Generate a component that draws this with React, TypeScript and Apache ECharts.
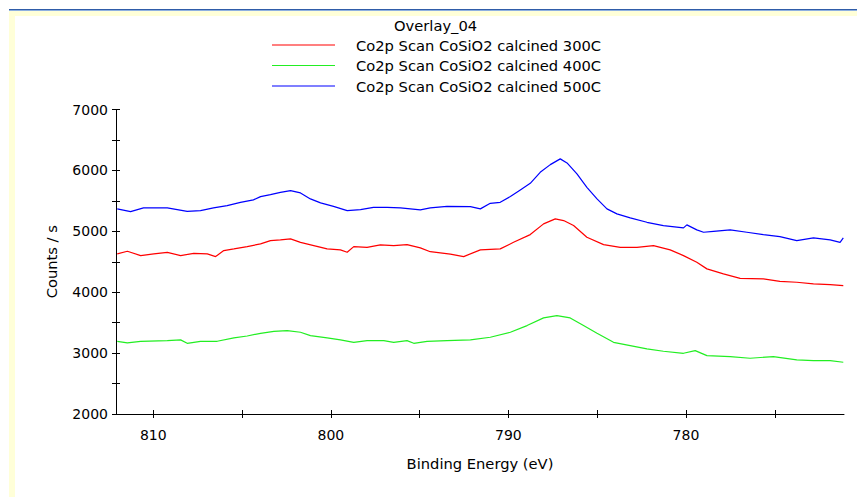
import React, { useEffect, useRef } from "react";
import * as echarts from "echarts";

const titleText = "Overlay_04";
const seriesNames = [
  "Co2p Scan CoSiO2 calcined 300C",
  "Co2p Scan CoSiO2 calcined 400C",
  "Co2p Scan CoSiO2 calcined 500C",
];
const seriesColors = ["#ff0000", "#22ee22", "#0000ff"];

const redEnergy = [812.03, 811.46, 810.71, 809.97, 809.21, 808.46, 807.72, 806.96, 806.49, 806.03, 805.46, 804.71, 803.96, 803.4, 802.84, 802.27, 801.71, 800.96, 800.21, 799.46, 799.08, 798.71, 797.96, 797.21, 796.46, 795.71, 794.96, 794.4, 793.27, 792.52, 791.58, 790.46, 789.71, 788.77, 788.02, 787.36, 786.89, 786.33, 785.58, 784.64, 783.7, 782.76, 781.83, 780.89, 780.14, 779.39, 778.82, 777.89, 776.95, 775.64, 774.71, 773.76, 772.82, 771.88, 771.14];
const redCounts = [4629, 4672, 4601, 4629, 4655, 4601, 4639, 4629, 4585, 4683, 4711, 4749, 4793, 4847, 4859, 4875, 4819, 4765, 4711, 4695, 4655, 4749, 4737, 4777, 4765, 4782, 4727, 4665, 4625, 4585, 4695, 4711, 4819, 4946, 5122, 5204, 5176, 5094, 4902, 4782, 4737, 4737, 4765, 4695, 4601, 4491, 4383, 4300, 4228, 4218, 4179, 4163, 4136, 4125, 4108];

const greenEnergy = [812.03, 811.46, 810.71, 809.21, 808.46, 808.09, 807.34, 806.4, 805.46, 804.71, 803.96, 803.21, 802.46, 801.71, 801.15, 800.21, 799.46, 798.71, 797.96, 797.02, 796.46, 795.71, 795.33, 794.58, 793.46, 792.14, 791.02, 789.89, 788.95, 788.02, 787.27, 786.52, 785.77, 785.01, 784.08, 783.14, 782.2, 781.27, 780.14, 779.48, 778.82, 777.51, 776.39, 775.08, 773.76, 772.82, 771.88, 771.14];
const greenCounts = [3194, 3168, 3194, 3205, 3217, 3161, 3194, 3194, 3250, 3281, 3325, 3358, 3370, 3342, 3287, 3250, 3217, 3177, 3205, 3205, 3177, 3205, 3161, 3194, 3205, 3217, 3260, 3342, 3452, 3578, 3616, 3578, 3452, 3325, 3177, 3123, 3069, 3030, 2997, 3041, 2959, 2943, 2915, 2943, 2888, 2877, 2877, 2850];

const blueEnergy = [812.03, 811.28, 810.55, 809.21, 808.09, 807.34, 806.61, 805.84, 805.09, 804.36, 803.96, 803.4, 802.84, 802.27, 801.71, 801.15, 800.58, 799.85, 799.08, 798.33, 797.6, 796.83, 796.08, 794.96, 794.4, 793.46, 792.14, 791.58, 791.02, 790.46, 789.89, 789.33, 788.77, 788.21, 787.64, 787.08, 786.7, 786.14, 785.58, 785.01, 784.45, 783.89, 783.14, 782.2, 781.27, 780.14, 779.95, 779.39, 779.01, 778.45, 777.51, 776.57, 775.64, 774.71, 773.76, 772.82, 771.88, 771.32, 771.14];
const blueCounts = [5368, 5323, 5384, 5384, 5328, 5340, 5384, 5422, 5476, 5516, 5570, 5603, 5640, 5668, 5630, 5532, 5466, 5410, 5340, 5356, 5394, 5394, 5384, 5351, 5384, 5410, 5405, 5368, 5460, 5476, 5570, 5680, 5788, 5969, 6095, 6189, 6123, 5942, 5722, 5532, 5368, 5286, 5220, 5148, 5094, 5056, 5105, 5023, 4984, 5000, 5023, 4984, 4946, 4913, 4847, 4892, 4859, 4819, 4892];

const xTicks = [775, 780, 785, 790, 795, 800, 805, 810];
const xLabels = [780, 790, 800, 810];
const yMin = 2000;
const yMax = 7000;
const xMin = 771.1;
const xMax = 812.1;

const FONT = "DejaVu Sans";

function pairs(xs: number[], ys: number[]) {
  return xs.map((x, i) => [x, ys[i]]);
}

export default function App() {
  const ref = useRef<HTMLDivElement>(null);
  useEffect(() => {
    if (!ref.current) return;
    const chart = echarts.init(ref.current, null, { renderer: "svg" });
    const datasets = [
      pairs(redEnergy, redCounts),
      pairs(greenEnergy, greenCounts),
      pairs(blueEnergy, blueCounts),
    ];
    chart.setOption({
      animation: false,
      backgroundColor: "#ffffff",
      color: seriesColors,
      title: {
        text: titleText,
        left: 394,
        top: 18,
        padding: 0,
        textStyle: { fontFamily: FONT, fontSize: 14.7, fontWeight: "normal", color: "#000" },
      },
      legend: {
        orient: "vertical",
        left: 272,
        top: 37,
        padding: 0,
        itemWidth: 63,
        itemHeight: 1,
        itemGap: 4.5,
        icon: "rect",
        data: seriesNames,
        textStyle: { fontFamily: FONT, fontSize: 14.7, color: "#000", lineHeight: 16, padding: [0, 0, 0, 16] },
      },
      graphic: [
        { type: "rect", shape: { x: 9, y: 9, width: 848, height: 1 }, style: { fill: "#2f5ca8" }, silent: true },
        { type: "rect", shape: { x: 9, y: 10, width: 848, height: 1 }, style: { fill: "#8fb0e0" }, silent: true },
        { type: "rect", shape: { x: 9, y: 11, width: 848, height: 5 }, style: { fill: "#ffffd8" }, silent: true },
        { type: "rect", shape: { x: 9, y: 11, width: 6, height: 486 }, style: { fill: "#ffffd8" }, silent: true },
      ],
      grid: { left: 116, right: 13, top: 109.5, bottom: 83 },
      xAxis: [
        {
          type: "value",
          min: xMin,
          max: xMax,
          inverse: true,
          name: "Binding Energy (eV)",
          nameLocation: "middle",
          nameGap: 42,
          nameTextStyle: { fontFamily: FONT, fontSize: 14.7, color: "#000" },
          axisLine: { lineStyle: { color: "#000", width: 1 } },
          axisTick: { show: true, length: 4, inside: false, customValues: xTicks, lineStyle: { color: "#000" } },
          axisLabel: { customValues: xLabels, margin: 14, fontFamily: FONT, fontSize: 14, color: "#000" },
          splitLine: { show: false },
        },
        {
          type: "value",
          min: xMin,
          max: xMax,
          inverse: true,
          position: "bottom",
          axisLine: { show: false },
          axisTick: { show: true, length: 4, inside: true, customValues: xTicks, lineStyle: { color: "#000" } },
          axisLabel: { show: false },
          splitLine: { show: false },
        },
      ],
      yAxis: [
        {
          type: "value",
          min: yMin,
          max: yMax,
          interval: 500,
          name: "Counts / s",
          nameLocation: "middle",
          nameGap: 57,
          nameTextStyle: { fontFamily: FONT, fontSize: 14.7, color: "#000" },
          axisLine: { show: true, lineStyle: { color: "#000", width: 1 } },
          axisTick: { show: true, length: 4, inside: false, lineStyle: { color: "#000" } },
          axisLabel: {
            margin: 8,
            fontFamily: FONT,
            fontSize: 14,
            color: "#000",
            formatter: (v: number) => (v % 1000 === 0 ? String(v) : ""),
          },
          splitLine: { show: false },
        },
        {
          type: "value",
          min: yMin,
          max: yMax,
          interval: 500,
          position: "left",
          axisLine: { show: false },
          axisTick: { show: true, length: 4, inside: true, lineStyle: { color: "#000" } },
          axisLabel: { show: false },
          splitLine: { show: false },
        },
      ],
      series: datasets.map((d, i) => ({
        name: seriesNames[i],
        type: "line",
        data: d,
        symbol: "none",
        smooth: false,
        lineStyle: { width: 1.2, color: seriesColors[i] },
        itemStyle: { color: seriesColors[i] },
      })),
    });
    return () => chart.dispose();
  }, []);
  return (
    <div
      ref={ref}
      style={{ position: "fixed", left: 0, top: 0, width: 857, height: 497 }}
    />
  );
}
